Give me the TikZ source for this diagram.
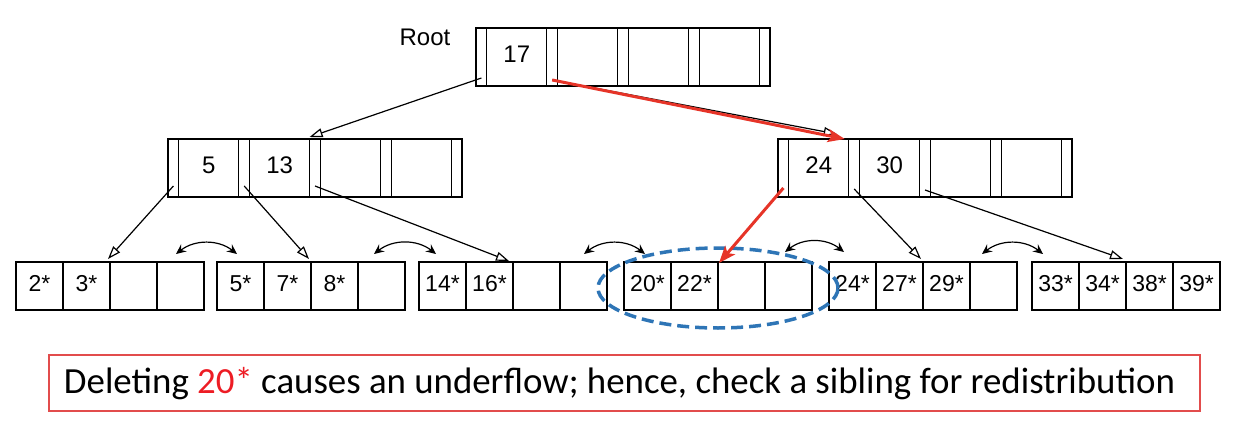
\documentclass[tikz,border=0pt]{standalone}
\usepackage{graphicx}
\usepackage{fontspec}
\setmainfont{Liberation Sans}
\newfontfamily\calfont{Carlito}
\usetikzlibrary{arrows.meta,calc}
\definecolor{arrred}{RGB}{230,52,40}
\definecolor{txtred}{RGB}{237,28,36}
\definecolor{boxred}{RGB}{226,76,76}
\definecolor{ellblue}{RGB}{46,117,182}

\tikzset{
  cell/.style={draw, line width=1.2pt, inner sep=0pt, outer sep=0pt, anchor=north west},
  ptrcell/.style={cell, minimum width=10.8pt, minimum height=58pt},
  keycell/.style={cell, minimum width=60pt, minimum height=58pt,
    font=\fontsize{24}{26}\selectfont, text height=17pt, text depth=5pt},
  leafcell/.style={cell, minimum width=47pt, minimum height=48pt,
    font=\fontsize{23}{25}\selectfont, text height=16.5pt, text depth=6.5pt},
  tarrow/.style={line width=1.2pt, -{Triangle[open,length=13pt,width=9pt]}},
  redarrow/.style={arrred, line width=3pt, -{Stealth[length=17pt,width=13pt,inset=4pt]}},
  sibarrow/.style={line width=1.2pt, {Stealth[length=10pt,width=9pt,inset=3.5pt]}-{Stealth[length=10pt,width=9pt,inset=3.5pt]}, bend left=38},
  ellstyle/.style={ellblue, line width=3.5pt, dash pattern=on 12pt off 6pt},
}

\newcommand{\mkinner}[7]{%
  \foreach \i in {0,...,4}{
    \node[ptrcell] (#1-p\i) at ({#2+\i*70.8},#3) {};
  }
  \node[keycell] (#1-k1) at ({#2+10.8},#3) {#4};
  \node[keycell] (#1-k2) at ({#2+81.6},#3) {#5};
  \node[keycell] (#1-k3) at ({#2+152.4},#3) {#6};
  \node[keycell] (#1-k4) at ({#2+223.2},#3) {#7};
}
\newcommand{\mkleaf}[6]{%
  \node[leafcell] (#1-c1) at (#2,262) {#3};
  \node[leafcell] (#1-c2) at ({#2+47},262) {#4};
  \node[leafcell] (#1-c3) at ({#2+94},262) {#5};
  \node[leafcell] (#1-c4) at ({#2+141},262) {#6};
}

\begin{document}
\begin{tikzpicture}[x=1pt,y=-1pt]
\useasboundingbox (0,0) rectangle (1246,438);

% root and inner nodes
\node[font=\fontsize{24}{26}\selectfont] (rootlbl) at (425,37) {Root};
\mkinner{root}{476}{28}{17}{}{}{}
\mkinner{li}{168}{139}{5}{13}{}{}
\mkinner{ri}{778}{139}{24}{30}{}{}

% leaves
\mkleaf{L1}{16}{2*}{3*}{}{}
\mkleaf{L2}{217}{5*}{7*}{8*}{}
\mkleaf{L3}{419}{14*}{16*}{}{}
\mkleaf{L4}{624}{20*}{22*}{}{}
\mkleaf{L5}{829}{24*}{27*}{29*}{}
\mkleaf{L6}{1032}{33*}{34*}{38*}{39*}

% tree pointers
\draw[tarrow] ([yshift=8pt]root-p0.south) -- ([yshift=2pt]li-p2.north west);
\draw[tarrow] ([yshift=6pt]root-p1.south) -- ([xshift=-12pt,yshift=5pt]ri-k1.north east);
\draw[tarrow] ([yshift=11pt]li-p0.south) -- ([xshift=-2pt,yshift=3pt]L1-c3.north west);
\draw[tarrow] ([yshift=11pt]li-p1.south) -- ([xshift=-2pt,yshift=3pt]L2-c3.north west);
\draw[tarrow] ([yshift=11pt]li-p2.south) -- ([xshift=-4pt,yshift=1pt]L3-c3.north west);
\draw[tarrow] ([yshift=8pt]ri-p1.south) -- ([xshift=-2pt,yshift=3pt]L5-c3.north west);
\draw[tarrow] ([yshift=7pt]ri-p2.south) -- ([xshift=-3pt,yshift=3pt]L6-c3.north west);

% sibling links
\coordinate (sa1) at (176,254); \coordinate (sb1) at (237,254);
\coordinate (sa2) at (374,254); \coordinate (sb2) at (436,254);
\coordinate (sa3) at (584,254); \coordinate (sb3) at (645,254);
\coordinate (sa4) at (785,252); \coordinate (sb4) at (844,252);
\coordinate (sa5) at (982,254); \coordinate (sb5) at (1043,254);
\foreach \k in {1,...,5}{ \draw[sibarrow] (sa\k) to (sb\k); }

% highlight ellipse
\coordinate (ellc) at (718,288);
\draw[ellstyle] (ellc) ellipse [x radius=120pt, y radius=40pt];

% search path in red
\draw[redarrow] ([yshift=6pt]root-p1.south) -- ([xshift=-4pt]ri-k1.north east);
\draw[redarrow] ([yshift=9pt]ri-p0.south) -- ([xshift=1pt,yshift=-1pt]L4-c3.north west);

% caption
\node[draw=boxred, line width=1.2pt, minimum width=1151pt, minimum height=56pt, inner sep=0pt] (note) at (624.5,383) {};
\node[inner sep=0pt] (notetext) at (619.5,384) {\resizebox{1111pt}{!}{\calfont\fontsize{34}{40}\selectfont Deleting \textcolor{txtred}{20*} causes an underflow; hence, check a sibling for redistribution}};
\end{tikzpicture}
\end{document}
